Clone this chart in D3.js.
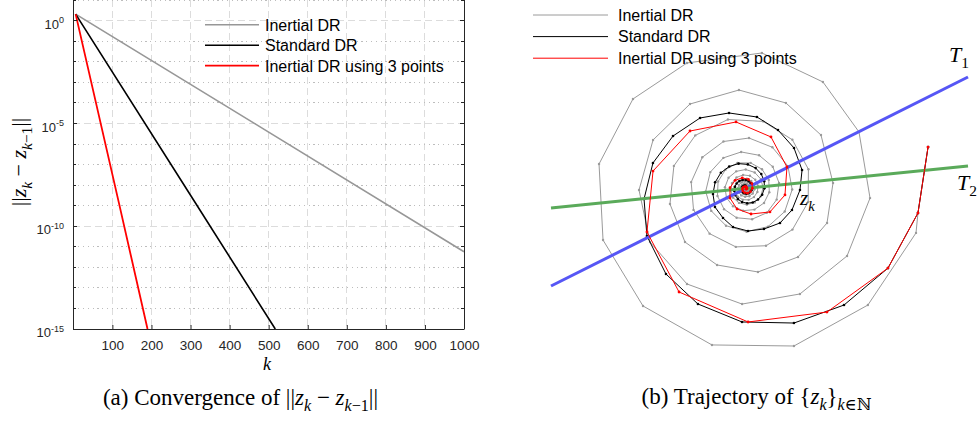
<!DOCTYPE html>
<html>
<head>
<meta charset="utf-8">
<script src="https://d3js.org/d3.v7.min.js"></script>
<style>
  body { margin: 0; background: #fff; }
  svg { display: block; }
</style>
</head>
<body>
<svg width="980" height="421"></svg>
<script>
// (a) convergence of ||z_k - z_{k-1}||
const iterGray = [6, 500, 1000];
const errGray = [2.09, 3.8e-6, 5.75e-12];
const iterStd = [6, 307, 517];
const errStd = [2.09, 2.0e-9, 1e-15];
const iterTri = [6, 117, 190];
const errTri = [2.09, 1.3e-9, 1e-15];

const seriesNames = ['Inertial DR', 'Standard DR', 'Inertial DR using 3 points'];
const kTicks = [100, 200, 300, 400, 500, 600, 700, 800, 900, 1000];
const majorExps = [-15, -10, -5, 0];
const minorExps = [-14, -13, -12, -11, -9, -8, -7, -6, -4, -3, -2, -1, 1];

// (b) trajectories, polar (angle in degrees clockwise on screen, radius) around the fixed point
const grayAngle = [347.2, 8.1, 14.6, 43.6, 72.9, 102.1, 131.1, 160.1, 189.5, 218.5, 245.0, 276.9, 306.0, 333.5,
  4.4, 33.6, 62.7, 91.7, 121.5, 150.7, 179.2, 207.7, 236.7, 266.2, 295.3, 324.7, 356.4, 22.9, 52.5, 81.5,
  110.4, 138.5, 168.4, 197.5, 226.6, 255.7, 284.8, 313.9, 343.0, 12.1, 41.2, 70.3, 99.4, 128.5, 157.6,
  186.7, 215.8, 244.9, 274.0, 303.1, 332.2, 1.3, 30.4, 59.5, 88.6, 117.7, 146.8, 175.9, 205.0, 234.1,
  263.2, 292.3, 321.4, 350.5, 19.6, 48.7, 77.8, 106.9, 136.0, 165.1, 194.2, 223.3, 252.4, 281.5, 310.6,
  339.7, 8.8, 37.9, 67.0, 96.1, 125.2, 154.3, 183.4, 212.5, 241.6, 270.7, 299.8, 328.9, 358.0, 27.1,
  56.2, 85.3, 114.4, 143.5, 172.6, 201.7, 230.8, 259.9, 289.0, 318.1, 347.2, 16.3, 45.4, 74.5, 103.6,
  132.7, 161.8, 190.9, 220.0, 249.1, 278.2, 307.3, 336.4, 5.5, 34.6, 63.7, 92.8, 121.9, 151.0, 180.1,
  209.2, 238.3, 267.4, 296.5, 325.6, 354.7, 23.8, 52.9, 82.0, 111.1, 140.2, 169.3, 198.4, 227.5, 256.6,
  285.7, 314.8, 343.9, 13.0, 42.1, 71.2, 100.3, 129.4, 158.5, 187.6, 216.7, 245.8, 274.9, 304.0, 333.1,
  2.2, 31.3, 60.4, 89.5];
const grayRadius = [187.2, 174.2, 176.2, 169.0, 164.8, 160.0, 155.9, 151.5, 148.5, 143.8, 138.5, 136.5, 131.7, 126.8,
  124.9, 121.9, 118.7, 115.6, 112.0, 109.5, 106.5, 104.4, 101.1, 98.7, 94.6, 92.5, 87.7, 88.5, 86.3, 84.4,
  81.6, 80.8, 77.1, 75.1, 73.1, 71.2, 69.4, 67.6, 65.8, 64.1, 62.4, 60.8, 59.2, 57.7, 56.2,
  54.7, 53.3, 51.9, 50.6, 49.2, 48.0, 46.7, 45.5, 44.3, 43.2, 42.0, 40.9, 39.9, 38.8, 37.8,
  36.8, 35.9, 34.9, 34.0, 33.1, 32.3, 31.4, 30.6, 29.8, 29.0, 28.3, 27.5, 26.8, 26.1, 25.4,
  24.8, 24.1, 23.5, 22.9, 22.3, 21.7, 21.1, 20.6, 20.1, 19.5, 19.0, 18.5, 18.0, 17.6, 17.1,
  16.7, 16.2, 15.8, 15.4, 15.0, 14.6, 14.2, 13.8, 13.5, 13.1, 12.8, 12.4, 12.1, 11.8, 11.5,
  11.2, 10.9, 10.6, 10.3, 10.0, 9.8, 9.5, 9.3, 9.0, 8.8, 8.6, 8.3, 8.1, 7.9, 7.7,
  7.5, 7.3, 7.1, 6.9, 6.7, 6.5, 6.3, 6.2, 6.0, 5.8, 5.7, 5.5, 5.4, 5.2, 5.1,
  5.0, 4.8, 4.7, 4.6, 4.5, 4.3, 4.2, 4.1, 4.0, 3.9, 3.8, 3.7, 3.6, 3.5, 3.4,
  3.3, 3.2, 3.1, 3.0];

const stdAngle = [347.2, 8.1, 29.2, 49.8, 70.2, 91.5, 112.4, 132.9, 154.3, 174.1, 195.4, 215.9, 237.2, 257.7,
  279.1, 299.1, 320.1, 341.9, 1.6, 24.8, 45.0, 65.5, 86.6, 108.0, 127.3, 148.8, 170.4, 191.5, 212.5,
  233.5, 254.5, 275.5, 296.5, 317.5, 338.5, 359.5, 20.5, 41.5, 62.5, 83.5, 104.5, 125.5, 146.5, 167.5,
  188.5, 209.5, 230.5, 251.5, 272.5, 293.5, 314.5, 335.5, 356.5, 17.5, 38.5, 59.5, 80.5, 101.5, 122.5,
  143.5, 164.5, 185.5, 206.5, 227.5, 248.5, 269.5];
const stdRadius = [187.2, 174.2, 163.2, 152.6, 143.0, 133.5, 124.9, 116.8, 109.4, 102.0, 96.0, 89.5, 83.9, 77.3,
  72.4, 66.9, 63.2, 59.5, 54.5, 51.2, 48.8, 44.5, 42.6, 40.5, 37.1, 35.7, 33.0, 31.0, 29.2,
  27.4, 25.8, 24.2, 22.8, 21.4, 20.1, 18.9, 17.8, 16.7, 15.7, 14.8, 13.9, 13.1, 12.3, 11.5,
  10.8, 10.2, 9.6, 9.0, 8.5, 8.0, 7.5, 7.0, 6.6, 6.2, 5.8, 5.5, 5.2, 4.8, 4.6,
  4.3, 4.0, 3.8, 3.6, 3.3, 3.1, 3.0];

const triAngle = [347.2, 8.1, 29.2, 56.6, 88.9, 122.7, 156.2, 190.7, 226.0, 261.9, 296.3, 332.6, 9.3, 43.8,
  77.8, 112.5, 148.5, 183, 218, 253, 288, 323, 358, 33, 68, 103, 138, 173, 208, 243, 278, 313, 348, 23, 58];
const triRadius = [187.2, 174.2, 163.2, 148.0, 133.5, 123.0, 107.7, 94.1, 79.9, 67.2, 57.5, 46.7, 40.0, 33.9,
  26.1, 22.2, 18.2, 15.5, 13.2, 11.2, 9.5, 8.1, 6.9, 5.9, 5.0, 4.2, 3.6, 3.1, 2.6, 2.2, 1.9, 1.6, 1.4, 1.2, 1.0];

// the two lines T1, T2 (end points, same units, y up)
const lineT1 = [[-194.5, -97.5], [222.5, 111.5]];
const lineT2 = [[-194.5, -19.5], [222.5, 22.5]];

const COLORS = ['#979797', '#000000', '#ff0000'];
const AXIS_COLOR = '#262626';
const SANS = "'Liberation Sans', Arial, sans-serif";
const SERIF = "'Liberation Serif', 'DejaVu Serif', serif";

const svg = d3.select('svg');

// writes math-ish text: parts are [string, flags] with flags among i / sub / sup
function addParts(txt, parts, size) {
  let shift = 0;
  parts.forEach(([s, flags]) => {
    const sub = flags.includes('sub'), sup = flags.includes('sup');
    const target = sub ? size * 0.28 : sup ? -size * 0.42 : 0;
    txt.append('tspan')
      .attr('dy', target - shift)
      .attr('font-size', (sub || sup) ? size * 0.7 : size)
      .attr('font-style', flags.includes('i') ? 'italic' : 'normal')
      .text(s);
    shift = target;
  });
}

const normParts = [['||', ''], ['z', 'i'], ['k', 'isub'], [' − ', ''], ['z', 'i'], ['k', 'isub'], ['−1', 'sub'], ['||', '']];

// ---------- left panel ----------
const PLOT_TOP = 0.2, PLOT_BOTTOM = 329, PLOT_LEFT = 73.3, PLOT_RIGHT = 464;
const x = d3.scaleLinear().domain([0, 1000]).range([PLOT_LEFT, PLOT_RIGHT]);
const y = d3.scaleLog().domain([1e-15, 10]).range([PLOT_BOTTOM, PLOT_TOP]);

const grid = svg.append('g').attr('shape-rendering', 'crispEdges');
grid.selectAll('.vgrid')
  .data(kTicks.filter(k => k < 1000))
  .join('line')
  .attr('x1', d => x(d)).attr('x2', d => x(d))
  .attr('y1', PLOT_TOP).attr('y2', PLOT_BOTTOM)
  .attr('stroke', '#dcdcdc')
  .attr('stroke-dasharray', '7,4');
grid.selectAll('.hmajor')
  .data(majorExps.filter(e => e > -15))
  .join('line')
  .attr('x1', PLOT_LEFT).attr('x2', PLOT_RIGHT)
  .attr('y1', d => y(10 ** d)).attr('y2', d => y(10 ** d))
  .attr('stroke', '#dcdcdc')
  .attr('stroke-dasharray', '7,4');
grid.selectAll('.hminor')
  .data(minorExps)
  .join('line')
  .attr('x1', PLOT_LEFT).attr('x2', PLOT_RIGHT)
  .attr('y1', d => y(10 ** d)).attr('y2', d => y(10 ** d))
  .attr('stroke', '#bdbdbd')
  .attr('stroke-dasharray', '1.2,3.6');

const convLine = d3.line().x(d => x(d[0])).y(d => y(d[1]));
const convSeries = [d3.zip(iterGray, errGray), d3.zip(iterStd, errStd), d3.zip(iterTri, errTri)];
svg.append('g')
  .selectAll('path')
  .data(convSeries)
  .join('path')
  .attr('d', convLine)
  .attr('fill', 'none')
  .attr('stroke', (d, i) => COLORS[i])
  .attr('stroke-width', (d, i) => i === 2 ? 1.8 : 1.6);

// axes
const xAxis = d3.axisBottom(x)
  .tickValues(kTicks)
  .tickSizeInner(-4)
  .tickSizeOuter(0)
  .tickPadding(11)
  .tickFormat(d3.format('d'));
const gx = svg.append('g')
  .attr('transform', `translate(0,${PLOT_BOTTOM})`)
  .call(xAxis);
gx.select('.domain').attr('stroke', AXIS_COLOR);
gx.selectAll('line').attr('stroke', AXIS_COLOR);
gx.selectAll('text')
  .attr('fill', AXIS_COLOR)
  .attr('font-family', SANS)
  .attr('font-size', 13.5);

const frame = svg.append('g').attr('stroke', AXIS_COLOR).attr('shape-rendering', 'crispEdges');
frame.append('line').attr('x1', PLOT_LEFT).attr('x2', PLOT_LEFT).attr('y1', PLOT_TOP - 1).attr('y2', PLOT_BOTTOM);
frame.append('line').attr('x1', PLOT_RIGHT).attr('x2', PLOT_RIGHT).attr('y1', PLOT_TOP - 1).attr('y2', PLOT_BOTTOM);
const allExps = majorExps.concat(minorExps);
frame.selectAll('.ltick')
  .data(allExps)
  .join('line')
  .attr('x1', PLOT_LEFT).attr('x2', d => PLOT_LEFT + (majorExps.includes(d) ? 4 : 3))
  .attr('y1', d => y(10 ** d)).attr('y2', d => y(10 ** d));
frame.selectAll('.rtick')
  .data(allExps)
  .join('line')
  .attr('x1', PLOT_RIGHT).attr('x2', d => PLOT_RIGHT - (majorExps.includes(d) ? 4 : 3))
  .attr('y1', d => y(10 ** d)).attr('y2', d => y(10 ** d));

majorExps.forEach(e => {
  const t = svg.append('text')
    .attr('x', 64)
    .attr('y', y(10 ** e) + 8)
    .attr('text-anchor', 'end')
    .attr('font-family', SANS)
    .attr('fill', AXIS_COLOR);
  t.append('tspan').attr('font-size', 13).text('10');
  t.append('tspan').attr('font-size', 9).attr('dy', -5.5).text(String(e));
});

// axis labels
svg.append('text')
  .attr('x', 267).attr('y', 370)
  .attr('text-anchor', 'middle')
  .attr('font-family', SERIF)
  .attr('font-style', 'italic')
  .attr('font-size', 18)
  .text('k');
const yLab = svg.append('text')
  .attr('transform', 'translate(26,162) rotate(-90)')
  .attr('text-anchor', 'middle')
  .attr('font-family', SERIF);
addParts(yLab, normParts, 22);

// legend (a)
const legA = svg.append('g');
seriesNames.forEach((name, i) => {
  const ly = 24.7 + i * 20.5;
  legA.append('line')
    .attr('x1', 205).attr('x2', 259).attr('y1', ly).attr('y2', ly)
    .attr('stroke', COLORS[i]).attr('stroke-width', i === 2 ? 1.8 : 1.6);
  legA.append('text')
    .attr('x', 265).attr('y', ly + 5.8)
    .attr('font-family', SANS).attr('font-size', 16).attr('fill', '#000')
    .text(name);
});

// ---------- right panel ----------
const sx = d3.scaleLinear().domain([-200, 240]).range([545.5, 985.5]);
const sy = d3.scaleLinear().domain([188.5, -232.5]).range([0, 421]);

function polarPts(angles, radii) {
  return d3.zip(angles, radii).map(([a, r]) => {
    const p = d3.pointRadial((a + 90) * Math.PI / 180, r);
    return [sx(p[0]), sy(-p[1])];
  });
}

const pathLine = d3.line();
function drawTrajectory(pts, color, dotR) {
  const g = svg.append('g');
  g.append('path')
    .attr('d', pathLine(pts))
    .attr('fill', 'none')
    .attr('stroke', color)
    .attr('stroke-width', 1)
    .attr('stroke-linejoin', 'round');
  g.selectAll('circle')
    .data(pts)
    .join('circle')
    .attr('cx', d => d[0]).attr('cy', d => d[1])
    .attr('r', dotR)
    .attr('fill', color);
}

drawTrajectory(polarPts(grayAngle, grayRadius), '#9a9a9a', 1.2);
drawTrajectory(polarPts(stdAngle, stdRadius), '#000000', 1.3);

const tLine = d3.line().x(d => sx(d[0])).y(d => sy(d[1]));
svg.append('path').attr('d', tLine(lineT1)).attr('stroke', '#5656f5').attr('stroke-width', 3).attr('fill', 'none');
svg.append('path').attr('d', tLine(lineT2)).attr('stroke', '#5aaa5a').attr('stroke-width', 3).attr('fill', 'none');

drawTrajectory(polarPts(triAngle, triRadius), '#ff0000', 1.4);

// labels T1, T2, z_k
const t1 = svg.append('text').attr('x', 949).attr('y', 62).attr('font-family', SERIF).attr('fill', '#000');
addParts(t1, [['T', 'i'], ['1', 'sub']], 22);
const t2 = svg.append('text').attr('x', 957).attr('y', 190).attr('font-family', SERIF).attr('fill', '#000');
addParts(t2, [['T', 'i'], ['2', 'sub']], 22);
const zk = svg.append('text').attr('x', 800).attr('y', 205).attr('font-family', SERIF).attr('fill', '#000');
addParts(zk, [['z', 'i'], ['k', 'isub']], 21);

// legend (b)
const legB = svg.append('g');
seriesNames.forEach((name, i) => {
  const ly = 15 + i * 21.6;
  legB.append('line')
    .attr('x1', 533).attr('x2', 608).attr('y1', ly).attr('y2', ly)
    .attr('stroke', i === 0 ? '#9a9a9a' : COLORS[i]).attr('stroke-width', 1);
  legB.append('text')
    .attr('x', 618).attr('y', ly + 5.8)
    .attr('font-family', SANS).attr('font-size', 16).attr('fill', '#000')
    .text(name);
});

// ---------- captions ----------
const capA = svg.append('text')
  .attr('x', 240.5).attr('y', 405)
  .attr('text-anchor', 'middle')
  .attr('font-family', SERIF)
  .attr('fill', '#000');
addParts(capA, [['(a) Convergence of ', '']].concat(normParts), 23);

const capB = svg.append('text')
  .attr('x', 756.5).attr('y', 404)
  .attr('text-anchor', 'middle')
  .attr('font-family', SERIF)
  .attr('fill', '#000');
addParts(capB, [['(b) Trajectory of {', ''], ['z', 'i'], ['k', 'isub'], ['}', ''], ['k', 'isub'], ['∈ℕ', 'sub']], 23);
</script>
</body>
</html>
